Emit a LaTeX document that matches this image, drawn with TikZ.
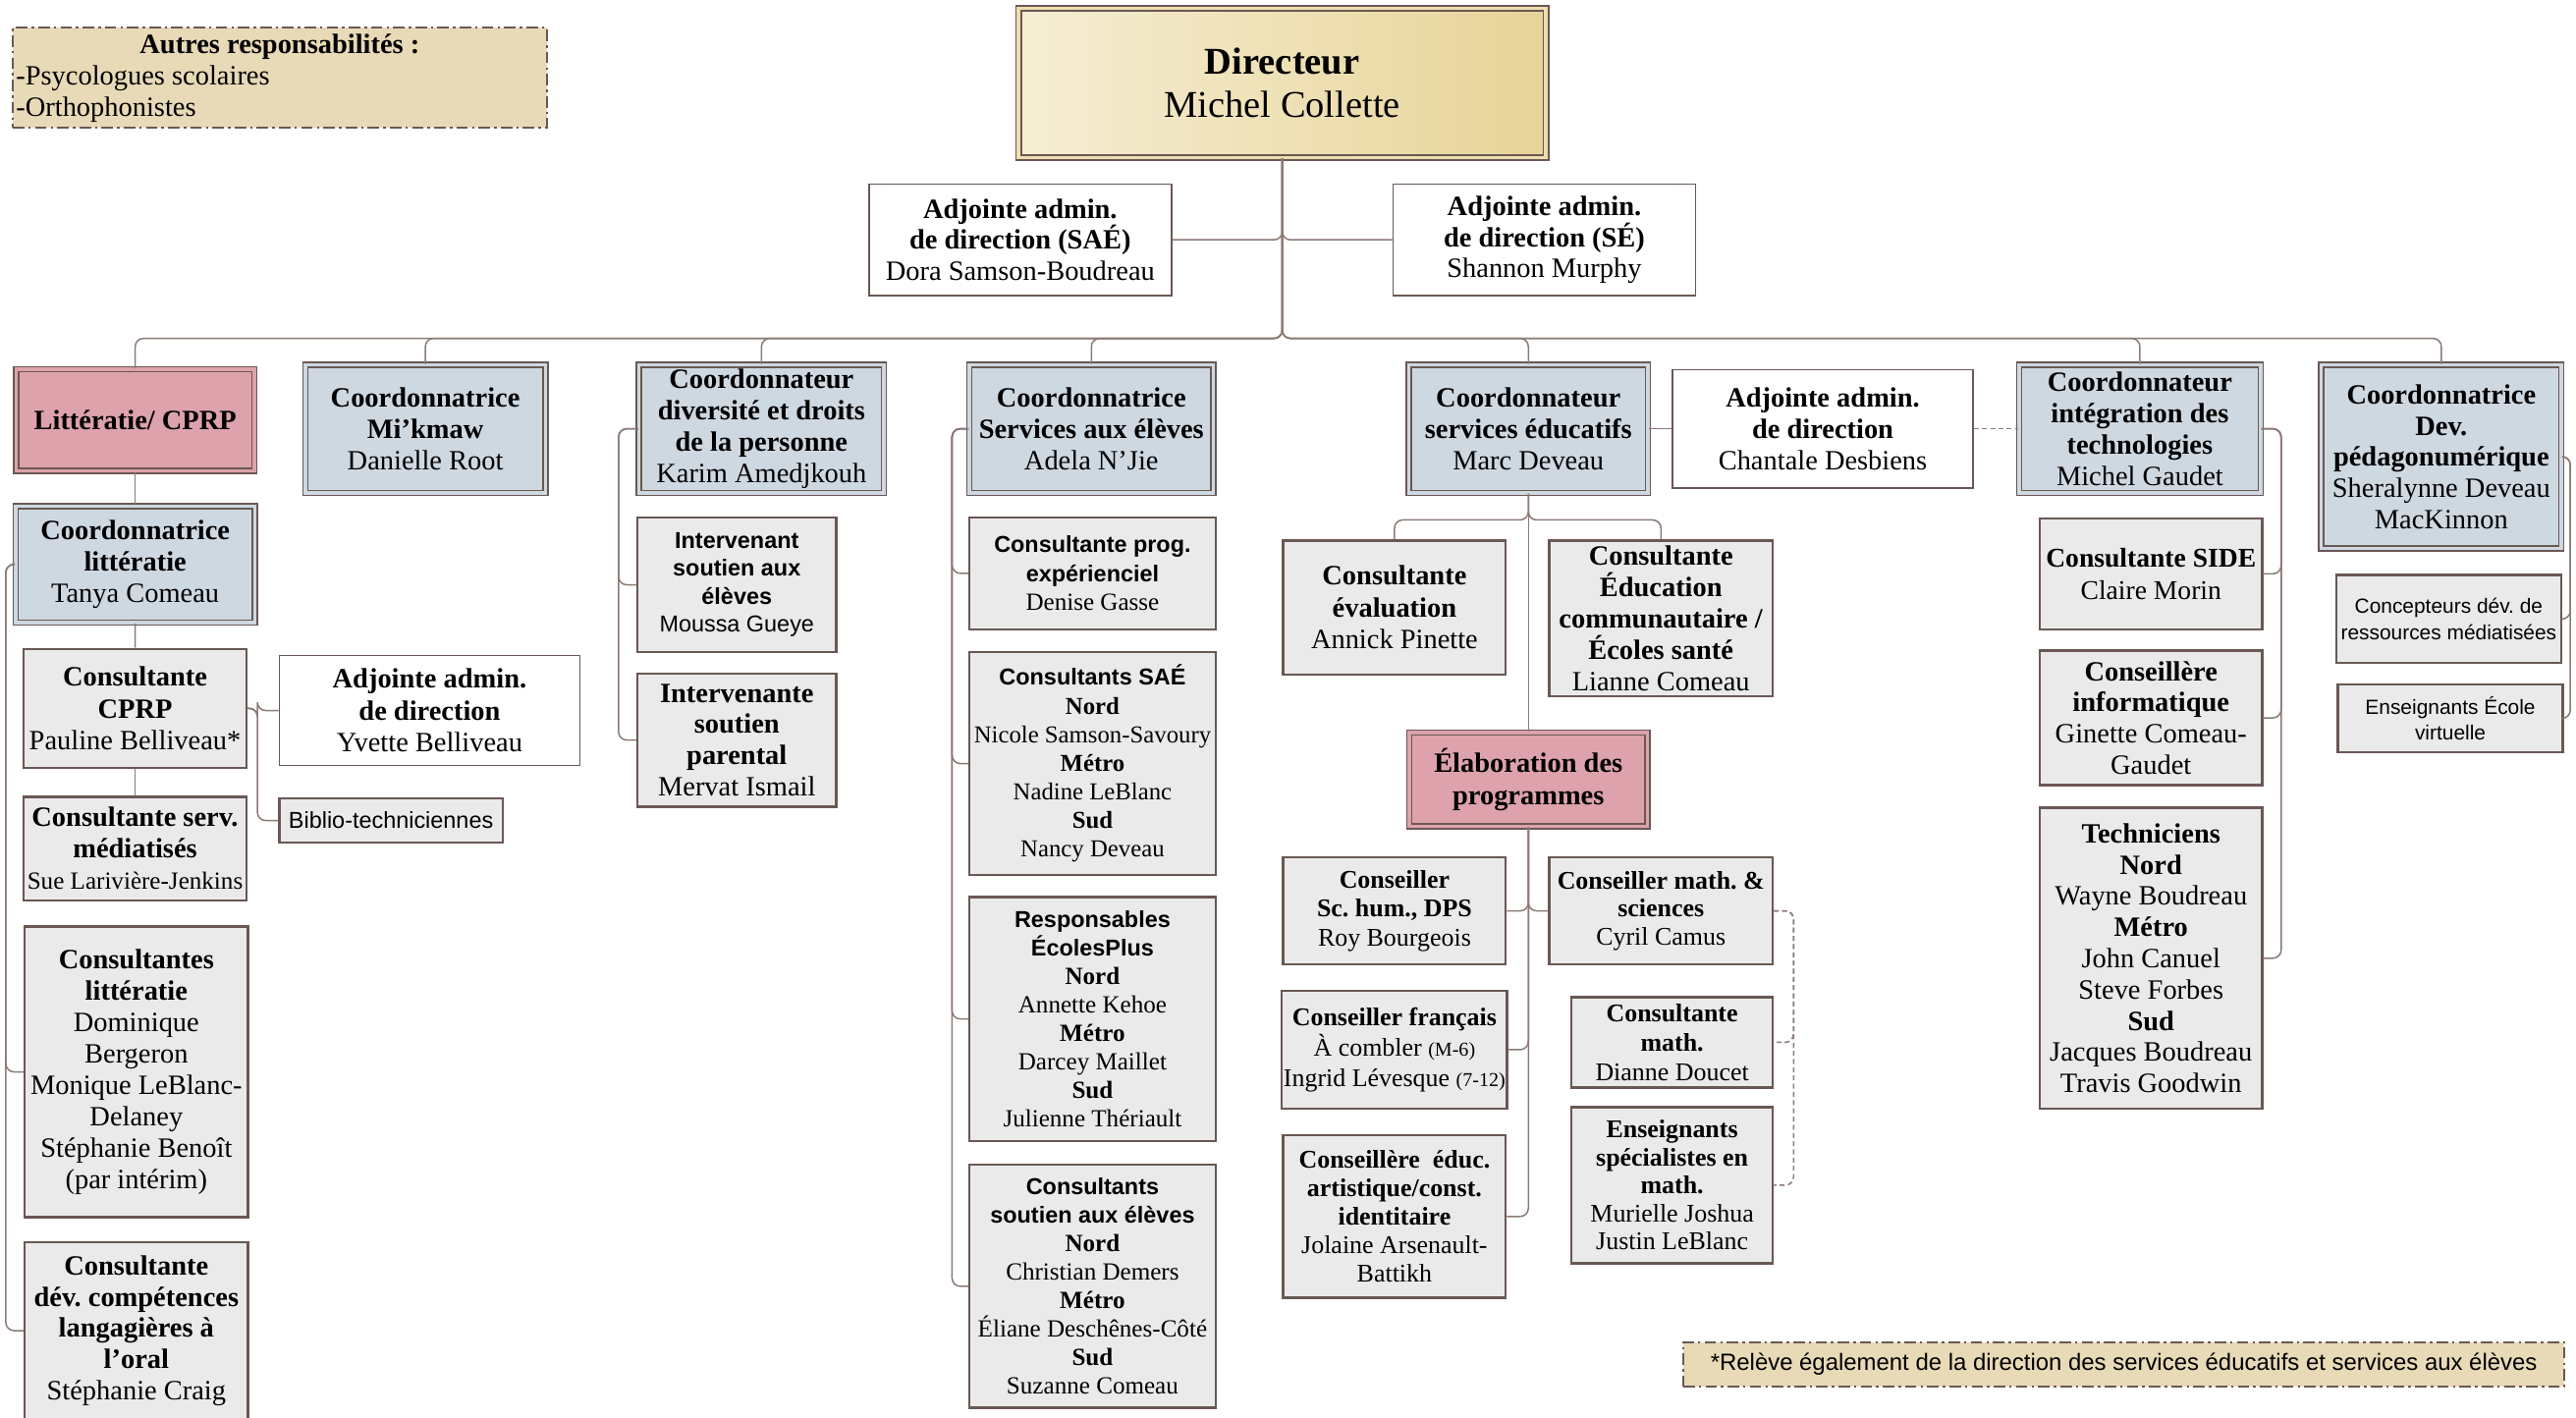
\documentclass[tikz,border=0pt]{standalone}
\usepackage{fontspec}
\setmainfont{Liberation Serif}
\setsansfont{Liberation Sans}
\usepackage{tikz}
\frenchspacing

\definecolor{brd}{RGB}{105,88,84}
\definecolor{lin}{RGB}{140,122,117}
\definecolor{blu}{RGB}{206,216,225}
\definecolor{pnk}{RGB}{221,162,171}
\definecolor{pat}{RGB}{234,234,234}
\definecolor{bge}{RGB}{232,217,183}
\definecolor{gld}{RGB}{231,212,152}
\definecolor{gldl}{RGB}{246,238,212}

\newcommand{\fsz}[2]{\fontsize{#1}{#2}\selectfont}
\newcommand{\hs}[1]{{\sffamily\bfseries\fsz{14}{17}#1}}

\tikzset{
  box/.style={draw=brd, line width=1pt, align=center, inner sep=1pt, font=\fsz{17}{19}},
  wbox/.style={box, fill=white},
  pbox/.style={box, fill=pat, line width=1.4pt},
  cbox/.style={box, fill=blu, double=blu, double distance=2pt},
  rbox/.style={box, fill=pnk, double=pnk, double distance=2pt},
  dbox/.style={box, left color=gldl, right color=gld, double=gld!60!gldl, double distance=2pt},
  nbox/.style={draw=brd, fill=bge, line width=1.2pt, dash pattern=on 7pt off 2.5pt on 1.5pt off 2.5pt},
  conn/.style={draw=lin, line width=0.9pt, rounded corners=5pt},
  sz/.style 2 args={minimum width=#1pt, minimum height=#2pt}
}

\begin{document}
\begin{tikzpicture}[x=1pt, y=-1pt]
\useasboundingbox[fill=white] (0,0) rectangle (1568,863);

\node[nbox, sz={325}{61}, inner sep=2pt, align=left, font=\fsz{17}{19}] (nt) at (170.3,47.5) {\makebox[321pt]{\textbf{Autres responsabilités :}}\\-Psycologues scolaires\\-Orthophonistes};
\node[dbox, sz={321}{91}, font=\fsz{23}{26}] (d) at (780.5,50.5) {\textbf{Directeur}\\Michel Collette};
\node[wbox, sz={184}{68}] (a1) at (621,146) {\textbf{Adjointe admin.}\\\textbf{de direction (SAÉ)}\\Dora Samson-Boudreau};
\node[wbox, sz={184}{68}] (a2) at (940,146) {\textbf{Adjointe admin.}\\\textbf{de direction (SÉ)}\\Shannon Murphy};
\coordinate (bus) at (0,206);

\node[rbox, sz={145}{62}] (l0) at (82.3,255.8) {\textbf{Littératie/ CPRP}};
\node[cbox, sz={146}{78}] (mk) at (258.9,261) {\textbf{Coordonnatrice}\\\textbf{Mi’kmaw}\\Danielle Root};
\node[cbox, sz={149}{78}] (dv) at (463.5,261) {\textbf{Coordonnateur}\\\textbf{diversité et droits}\\\textbf{de la personne}\\Karim Amedjkouh};
\node[cbox, sz={148.6}{78}] (sa) at (664.3,261) {\textbf{Coordonnatrice}\\\textbf{Services aux élèves}\\Adela N’Jie};
\node[cbox, sz={145.5}{78}] (se) at (930.3,261) {\textbf{Coordonnateur}\\\textbf{services éducatifs}\\Marc Deveau};
\node[wbox, sz={183}{72}] (ch) at (1109.5,261) {\textbf{Adjointe admin.}\\\textbf{de direction}\\Chantale Desbiens};
\node[cbox, sz={147}{78}] (it) at (1302.5,261) {\textbf{Coordonnateur}\\\textbf{intégration des}\\\textbf{technologies}\\Michel Gaudet};
\node[cbox, sz={146}{112}] (pd) at (1486,278) {\textbf{Coordonnatrice}\\\textbf{Dev.}\\\textbf{pédagonumérique}\\Sheralynne Deveau\\MacKinnon};

\node[cbox, sz={145.5}{71}] (lc) at (82.3,343.5) {\textbf{Coordonnatrice}\\\textbf{littératie}\\Tanya Comeau};
\node[pbox, sz={135.6}{72.4}, font=\fsz{17}{19.5}] (cp) at (82.2,431.2) {\textbf{Consultante}\\\textbf{CPRP}\\Pauline Belliveau*};
\node[wbox, sz={183}{67}, font=\fsz{17}{19.5}] (yv) at (261.5,432.5) {\textbf{Adjointe admin.}\\\textbf{de direction}\\Yvette Belliveau};
\node[pbox, sz={136}{27}, font=\sffamily\fsz{14}{17}] (bb) at (238,499.5) {Biblio-techniciennes};
\node[pbox, sz={135.6}{63}] (sm) at (82.2,516.5) {\textbf{Consultante serv.}\\\textbf{médiatisés}\\{\fsz{15}{19}Sue Larivière-Jenkins}};
\node[pbox, sz={136}{177}, font=\fsz{17}{19.1}] (cl) at (83,652.5) {\textbf{Consultantes}\\\textbf{littératie}\\Dominique\\Bergeron\\Monique LeBlanc-\\Delaney\\Stéphanie Benoît\\(par intérim)};
\node[pbox, sz={136}{108}] (co) at (83,810) {\textbf{Consultante}\\\textbf{dév. compétences}\\\textbf{langagières à}\\\textbf{l’oral}\\Stéphanie Craig};

\node[pbox, sz={121}{82}, font=\sffamily\fsz{14}{17}] (i1) at (448.5,356) {\textbf{Intervenant}\\\textbf{soutien aux}\\\textbf{élèves}\\Moussa Gueye};
\node[pbox, sz={121}{81}] (i2) at (448.5,450.5) {\textbf{Intervenante}\\\textbf{soutien}\\\textbf{parental}\\Mervat Ismail};

\node[pbox, sz={150}{68}, font=\fsz{15}{17.5}] (p1) at (665,349) {\hs{Consultante prog.}\\\hs{expérienciel}\\Denise Gasse};
\node[pbox, sz={150}{135.6}, font=\fsz{14.8}{17.4}] (p2) at (665,464.8) {\hs{Consultants SAÉ}\\\textbf{Nord}\\Nicole Samson-Savoury\\\textbf{Métro}\\Nadine LeBlanc\\\textbf{Sud}\\Nancy Deveau};
\node[pbox, sz={150}{148.6}, font=\fsz{15}{17.3}] (p3) at (665,620.3) {\hs{Responsables}\\\hs{ÉcolesPlus}\\\textbf{Nord}\\Annette Kehoe\\\textbf{Métro}\\Darcey Maillet\\\textbf{Sud}\\Julienne Thériault};
\node[pbox, sz={150}{148}, font=\fsz{15}{17.3}] (p4) at (665,783) {\hs{Consultants}\\\hs{soutien aux élèves}\\\textbf{Nord}\\Christian Demers\\\textbf{Métro}\\Éliane Deschênes-Côté\\\textbf{Sud}\\Suzanne Comeau};

\node[pbox, sz={135.5}{81.6}, font=\fsz{17}{19.5}] (ev) at (848.8,369.8) {\textbf{Consultante}\\\textbf{évaluation}\\Annick Pinette};
\node[pbox, sz={136}{95}] (ec) at (1011,376.5) {\textbf{Consultante}\\\textbf{Éducation}\\\textbf{communautaire /}\\\textbf{Écoles santé}\\Lianne Comeau};
\node[rbox, sz={145}{57}, font=\fsz{17}{20}] (el) at (930.3,474.5) {\textbf{Élaboration des}\\\textbf{programmes}};
\node[pbox, sz={135.5}{65}, font=\fsz{15.5}{17.5}] (hm) at (848.8,554.5) {\textbf{Conseiller}\\\textbf{Sc. hum., DPS}\\Roy Bourgeois};
\node[pbox, sz={135.5}{72}, font=\fsz{15.5}{18.5}] (fr) at (848.8,639) {\textbf{Conseiller français}\\À combler {\fsz{12}{12}(M-6)}\\Ingrid Lévesque {\fsz{12}{12}(7-12)}};
\node[pbox, sz={135.5}{99}, font=\fsz{15.5}{17.3}] (ar) at (848.8,740.5) {\textbf{Conseillère\ \ éduc.}\\\textbf{artistique/const.}\\\textbf{identitaire}\\Jolaine Arsenault-\\Battikh};
\node[pbox, sz={136}{65}, font=\fsz{15.5}{17}] (ma) at (1011,554.5) {\textbf{Conseiller math. \&}\\\textbf{sciences}\\Cyril Camus};
\node[pbox, sz={122.5}{55}, font=\fsz{15.5}{18}] (cm) at (1017.8,634.5) {\textbf{Consultante}\\\textbf{math.}\\Dianne Doucet};
\node[pbox, sz={122.5}{95}, font=\fsz{15.5}{17}] (es) at (1017.8,721.5) {\textbf{Enseignants}\\\textbf{spécialistes en}\\\textbf{math.}\\Murielle Joshua\\Justin LeBlanc};

\node[pbox, sz={135.4}{67.4}, font=\fsz{16.5}{20}] (sd) at (1309.3,349.3) {\textbf{Consultante SIDE}\\Claire Morin};
\node[pbox, sz={135.4}{82}] (ci) at (1309.3,437) {\textbf{Conseillère}\\\textbf{informatique}\\Ginette Comeau-\\Gaudet};
\node[pbox, sz={135.4}{183.4}] (tc) at (1309.3,583.3) {\textbf{Techniciens}\\\textbf{Nord}\\Wayne Boudreau\\\textbf{Métro}\\John Canuel\\Steve Forbes\\\textbf{Sud}\\Jacques Boudreau\\Travis Goodwin};

\node[pbox, sz={137}{53.5}, font=\sffamily\fsz{12.5}{16}] (cn) at (1490.5,376.8) {Concepteurs dév. de\\ressources médiatisées};
\node[pbox, sz={137}{41.4}, font=\sffamily\fsz{12.5}{16}] (vi) at (1491.5,437.3) {Enseignants École\\virtuelle};

\node[nbox, sz={536.5}{27}, align=center, font=\sffamily\fsz{14.3}{17}] (fn) at (1292.8,830.5) {*Relève également de la direction des services éducatifs et services aux élèves};

\draw[conn] (d.south) |- (a1.east);
\draw[conn] (d.south) |- (a2.west);
\draw[conn] (d.south) -- (d.south |- bus) -| (l0.north);
\draw[conn] (d.south) -- (d.south |- bus) -| (mk.north);
\draw[conn] (d.south) -- (d.south |- bus) -| (dv.north);
\draw[conn] (d.south) -- (d.south |- bus) -| (sa.north);
\draw[conn] (d.south) -- (d.south |- bus) -| (se.north);
\draw[conn] (d.south) -- (d.south |- bus) -| (it.north);
\draw[conn] (d.south) -- (d.south |- bus) -| (pd.north);

\draw[conn] (l0.south) -- (lc.north);
\draw[conn] (lc.south) -- (cp.north);
\draw[conn] (cp.south) -- (sm.north);
\draw[conn] (lc.west) -- ++(-5.5,0) |- (cl.west);
\draw[conn] (lc.west) -- ++(-5.5,0) |- (co.west);
\draw[conn] (cp.east) -- ++(6,0) |- (yv.west);
\draw[conn] (cp.east) -- ++(6,0) |- (bb.west);

\draw[conn] (dv.west) -- ++(-12,0) |- (i1.west);
\draw[conn] (dv.west) -- ++(-12,0) |- (i2.west);

\draw[conn] (sa.west) -- ++(-10,0) |- (p1.west);
\draw[conn] (sa.west) -- ++(-10,0) |- (p2.west);
\draw[conn] (sa.west) -- ++(-10,0) |- (p3.west);
\draw[conn] (sa.west) -- ++(-10,0) |- (p4.west);

\draw[conn] (se.south) -- ++(0,16) -| (ev.north);
\draw[conn] (se.south) -- ++(0,16) -| (ec.north);
\draw[conn] (se.south) -- (el.north);
\draw[conn] (se.east) -- (ch.west);
\draw[conn, dash pattern=on 3pt off 2pt] (ch.east) -- (it.west);
\draw[conn] (el.south) |- (hm.east);
\draw[conn] (el.south) |- (fr.east);
\draw[conn] (el.south) |- (ar.east);
\draw[conn] (el.south) |- (ma.west);
\draw[conn, dash pattern=on 3pt off 2pt] (ma.east) -- ++(12,0) |- (cm.east);
\draw[conn, dash pattern=on 3pt off 2pt] (ma.east) -- ++(12,0) |- (es.east);

\draw[conn] (it.east) -- ++(12,0) |- (sd.east);
\draw[conn] (it.east) -- ++(12,0) |- (ci.east);
\draw[conn] (it.east) -- ++(12,0) |- (tc.east);
\draw[conn] (pd.east) -- ++(5,0) |- (cn.east);
\draw[conn] (pd.east) -- ++(5,0) |- (vi.east);
\end{tikzpicture}
\end{document}
